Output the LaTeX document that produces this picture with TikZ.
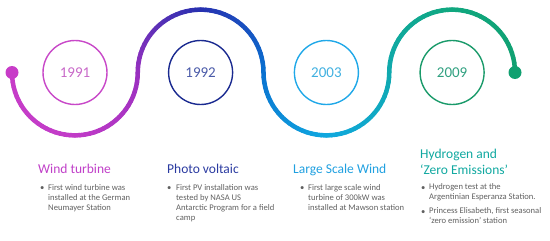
\documentclass[tikz,border=0pt]{standalone}
\usepackage{fontspec}
\setmainfont{Carlito}
\definecolor{c1}{HTML}{C848C8}
\definecolor{c2}{HTML}{1A2A90}
\definecolor{c3}{HTML}{20A8E8}
\definecolor{c4}{HTML}{1A9A6A}
\definecolor{y1}{HTML}{C868C8}
\definecolor{y2}{HTML}{4A5AA8}
\definecolor{y3}{HTML}{40B0E0}
\definecolor{y4}{HTML}{30A080}
\definecolor{h1}{HTML}{C040C8}
\definecolor{h2}{HTML}{2A3AA0}
\definecolor{h3}{HTML}{20A0E0}
\definecolor{h4}{HTML}{10A8A0}
\definecolor{bodyc}{HTML}{606060}
\definecolor{dotA}{HTML}{C83CC8}
\definecolor{dotB}{HTML}{10A070}
\tikzset{
  yearc/.style={circle, draw, line width=1.4pt, minimum size=64pt, inner sep=0pt, font=\fontsize{15}{18}\selectfont},
  headc/.style={anchor=base west, inner sep=0pt, align=left, font=\fontsize{13.5}{16}\selectfont},
  bodytext/.style={anchor=base west, inner sep=0pt, align=left, text=bodyc, font=\fontsize{8.6}{10}\selectfont},
  bul/.style={anchor=base west, inner sep=0pt, text=bodyc, font=\fontsize{8.6}{10}\selectfont},
  enddot/.style={circle, inner sep=0pt, minimum size=13pt}
}
\begin{document}
\begin{tikzpicture}[x=1pt,y=-1pt]
\useasboundingbox (0,0) rectangle (550,241);
\def\rr{62.875}
\def\Rs{{200,194,154,40,10,16,16,16,16}}
\def\Gs{{60,60,48,48,112,168,170,168,160}}
\def\Bs{{200,200,192,176,208,224,176,128,112}}
\foreach \i in {0,...,3}{
  \foreach \k in {0,...,39}{
    \pgfmathsetmacro\cx{12+\rr+2*\rr*\i}
    \pgfmathsetmacro\sgn{ifthenelse(mod(\i,2)==0,-1,1)}
    \pgfmathsetmacro\aA{180+\sgn*4.5*\k}
    \pgfmathsetmacro\aB{180+\sgn*4.5*(\k+1)}
    \pgfmathsetmacro\tt{2*(\i+(\k+0.5)/40)}
    \pgfmathtruncatemacro\jj{floor(\tt)}
    \pgfmathsetmacro\ff{\tt-\jj}
    \pgfmathtruncatemacro\R{\Rs[\jj]*(1-\ff)+\Rs[\jj+1]*\ff}
    \pgfmathtruncatemacro\G{\Gs[\jj]*(1-\ff)+\Gs[\jj+1]*\ff}
    \pgfmathtruncatemacro\B{\Bs[\jj]*(1-\ff)+\Bs[\jj+1]*\ff}
    \definecolor{segc}{RGB}{\R,\G,\B}
    \draw[segc, line width=4.5pt, line cap=round]
      ({\cx+\rr*cos(\aA)},{72.5+\rr*sin(\aA)}) -- ({\cx+\rr*cos(\aB)},{72.5+\rr*sin(\aB)});
  }
}
\node[enddot, fill=dotA] (start) at (12,72.5) {};
\node[enddot, fill=dotB] (finish) at (515,72.5) {};
% year circles
\node[yearc, draw=c1, text=y1] (n1991) at (75,72.5) {1991};
\node[yearc, draw=c2, text=y2] (n1992) at (200.6,72.5) {1992};
\node[yearc, draw=c3, text=y3] (n2003) at (326.4,72.5) {2003};
\node[yearc, draw=c4, text=y4] (n2009) at (452.1,72.5) {2009};
% headings
\node[headc, text=h1] (h1) at (38,173) {Wind turbine};
\node[headc, text=h2] (h2) at (167,173) {Photo voltaic};
\node[headc, text=h3] (h3) at (293,173) {Large Scale Wind};
\node[headc, text=h4] (h4) at (420,174) {Hydrogen and\\‘Zero Emissions’};
% bullets (multi-line nodes are anchored on their last line)
\node[bul] (b1) at (40,190) {•};
\node[bodytext] (t1) at (48,210) {First wind turbine was\\installed at the German\\Neumayer Station};
\node[bul] (b2) at (167,190) {•};
\node[bodytext] (t2) at (176,220) {First PV installation was\\tested by NASA US\\Antarctic Program for a field\\camp};
\node[bul] (b3) at (300,190) {•};
\node[bodytext] (t3) at (308,210) {First large scale wind\\turbine of 300kW was\\installed at Mawson station};
\node[bul] (b4) at (421,190) {•};
\node[bodytext] (t4) at (429,199) {Hydrogen test at the\\Argentinian Esperanza Station.};
\node[bul] (b5) at (421,214) {•};
\node[bodytext] (t5) at (429,223) {Princess Elisabeth, first seasonal\\‘zero emission’ station};
\end{tikzpicture}
\end{document}
